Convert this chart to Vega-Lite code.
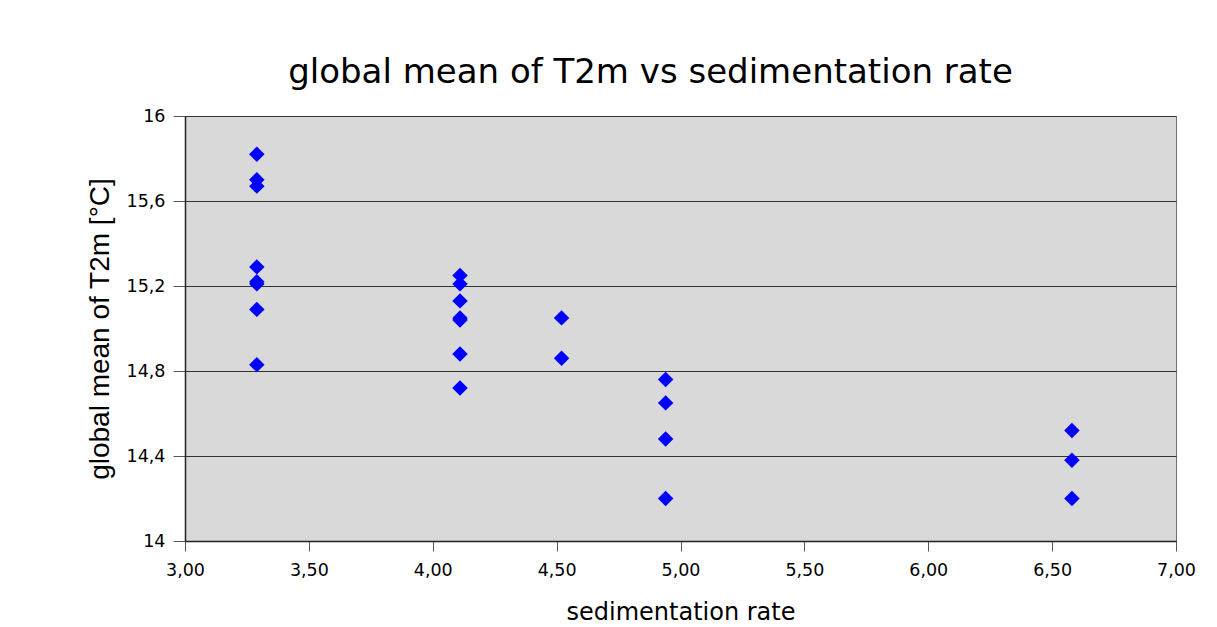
{
  "$schema": "https://vega.github.io/schema/vega-lite/v6.json",
  "width": 991,
  "height": 425,
  "autosize": "none",
  "padding": {"left": 185, "top": 116, "right": 41, "bottom": 86},
  "background": "white",
  "title": {
    "text": "global mean of T2m vs sedimentation rate",
    "font": "DejaVu Sans",
    "fontSize": 34,
    "fontWeight": "normal",
    "color": "black",
    "anchor": "middle",
    "dx": -30,
    "offset": 17
  },
  "config": {
    "locale": {"number": {"decimal": ",", "thousands": ".", "grouping": [3], "currency": ["", " €"]}},
    "view": {"fill": "#d9d9d9", "stroke": "#707070", "strokeWidth": 1},
    "axis": {
      "labelFont": "DejaVu Sans",
      "titleFont": "DejaVu Sans",
      "labelFontSize": 17.5,
      "labelFlush": false,
      "labelOverlap": false,
      "titleFontWeight": "normal",
      "labelColor": "black",
      "titleColor": "black",
      "domainColor": "#222222",
      "domainWidth": 1.5,
      "tickColor": "#555555"
    }
  },
  "data": {
    "values": [
      {"rate": 3.29, "t2m": 15.82},
      {"rate": 3.29, "t2m": 15.70},
      {"rate": 3.29, "t2m": 15.67},
      {"rate": 3.29, "t2m": 15.29},
      {"rate": 3.29, "t2m": 15.22},
      {"rate": 3.29, "t2m": 15.21},
      {"rate": 3.29, "t2m": 15.09},
      {"rate": 3.29, "t2m": 14.83},
      {"rate": 4.11, "t2m": 15.25},
      {"rate": 4.11, "t2m": 15.21},
      {"rate": 4.11, "t2m": 15.13},
      {"rate": 4.11, "t2m": 15.05},
      {"rate": 4.11, "t2m": 15.04},
      {"rate": 4.11, "t2m": 14.88},
      {"rate": 4.11, "t2m": 14.72},
      {"rate": 4.52, "t2m": 15.05},
      {"rate": 4.52, "t2m": 14.86},
      {"rate": 4.94, "t2m": 14.76},
      {"rate": 4.94, "t2m": 14.65},
      {"rate": 4.94, "t2m": 14.48},
      {"rate": 4.94, "t2m": 14.20},
      {"rate": 6.58, "t2m": 14.52},
      {"rate": 6.58, "t2m": 14.38},
      {"rate": 6.58, "t2m": 14.20}
    ]
  },
  "mark": {"type": "point", "shape": "diamond", "filled": true, "color": "#0000ff", "size": 240, "opacity": 1},
  "encoding": {
    "x": {
      "field": "rate",
      "type": "quantitative",
      "scale": {"domain": [3, 7], "nice": false, "zero": false},
      "axis": {
        "title": "sedimentation rate",
        "titleFontSize": 24,
        "values": [3, 3.5, 4, 4.5, 5, 5.5, 6, 6.5, 7],
        "format": ".2f",
        "grid": false,
        "tickSize": 10,
        "labelPadding": 10,
        "titlePadding": 22
      }
    },
    "y": {
      "field": "t2m",
      "type": "quantitative",
      "scale": {"domain": [14, 16], "nice": false, "zero": false},
      "axis": {
        "title": "global mean of T2m [°C]",
        "titleFont": "Liberation Sans",
        "titleFontSize": 28,
        "values": [14, 14.4, 14.8, 15.2, 15.6, 16],
        "format": ".1~f",
        "grid": true,
        "gridColor": "#333333",
        "gridWidth": 1,
        "tickSize": 12,
        "labelPadding": 8,
        "titlePadding": 12
      }
    }
  }
}
